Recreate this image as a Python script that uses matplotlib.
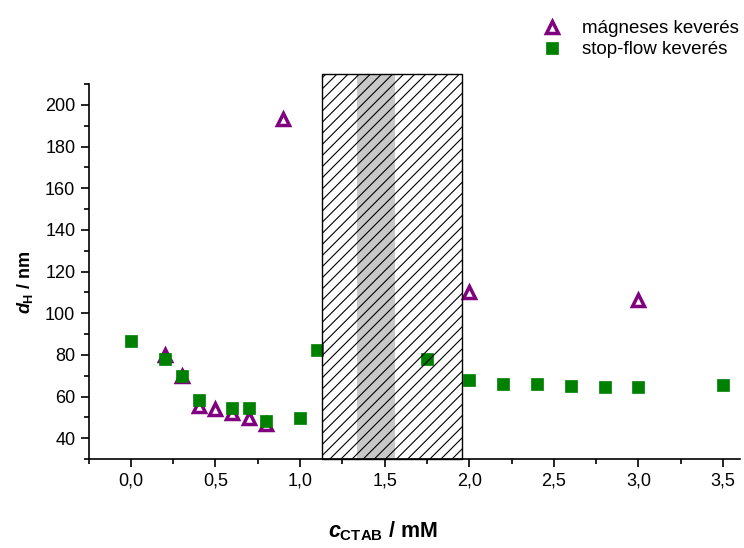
import numpy as np
import matplotlib
matplotlib.use("Agg")
import matplotlib.pyplot as plt
from matplotlib.patches import Rectangle
from matplotlib.ticker import MultipleLocator, FuncFormatter

# stop-flow keverés
sf_x = [0.0, 0.2, 0.3, 0.4, 0.6, 0.7, 0.8, 1.0, 1.1, 1.75, 2.0, 2.2, 2.4, 2.6, 2.8, 3.0, 3.5]
sf_y = [86.6, 78, 70, 58.5, 54.7, 54.7, 48.3, 49.5, 82.2, 77.8, 67.8, 66, 66, 65, 64.7, 64.7, 65.4]

# mágneses keverés
mg_x = [0.2, 0.3, 0.4, 0.5, 0.6, 0.7, 0.8, 0.9, 2.0, 3.0]
mg_y = [80, 70, 55.5, 54, 52, 49.5, 47, 193, 110.2, 106.2]

# shaded concentration ranges
hatch_range = (1.13, 1.955)
gray_range = (1.335, 1.56)

plt.rcParams['font.family'] = ['Liberation Sans', 'DejaVu Sans']
plt.rcParams['mathtext.fontset'] = 'custom'
plt.rcParams['mathtext.rm'] = 'Liberation Sans:bold'
plt.rcParams['mathtext.it'] = 'Liberation Sans:bold:italic'
plt.rcParams['mathtext.bf'] = 'Liberation Sans:bold'
plt.rcParams['hatch.linewidth'] = 0.8

fig = plt.figure(figsize=(7.44, 5.48), dpi=100)
ax = fig.add_axes([0.119, 0.1624, 0.8755, 0.6843])

ax.set_xlim(-0.25, 3.6)
ax.set_ylim(30, 210)

ax.axvspan(gray_range[0], gray_range[1], ymin=0, ymax=(215 - 30) / 180,
           color='#c8c8c8', lw=0, zorder=1, clip_on=False)

ax.plot(mg_x, mg_y, ls='none', marker='^', ms=9, mfc='white', mec='#800080',
        mew=2.5, zorder=3, label='mágneses keverés')
ax.plot(sf_x, sf_y, ls='none', marker='s', ms=8, mfc='#008000', mec='#008000',
        mew=0.5, zorder=4, label='stop-flow keverés')

rect = Rectangle((hatch_range[0], 30), hatch_range[1] - hatch_range[0], 215 - 30,
                 fill=False, hatch='///', edgecolor='black', lw=1.0,
                 zorder=5, clip_on=False)
ax.add_patch(rect)

for s in ['top', 'right']:
    ax.spines[s].set_visible(False)
for s in ['left', 'bottom']:
    ax.spines[s].set_linewidth(1.2)

ax.xaxis.set_major_locator(MultipleLocator(0.5))
ax.xaxis.set_minor_locator(MultipleLocator(0.25))
ax.yaxis.set_minor_locator(MultipleLocator(10))
ax.set_yticks(np.arange(40, 201, 20))
ax.xaxis.set_major_formatter(FuncFormatter(lambda v, p: f"{v:.1f}".replace('.', ',')))
ax.tick_params(which='major', direction='out', length=6, width=1.2, labelsize=13)
ax.tick_params(which='minor', direction='out', length=3.5, width=1.2)

ax.set_xlabel(r'$c_{\mathrm{CTAB}}$ / mM', fontsize=15.5, fontweight='bold')
ax.xaxis.set_label_coords(0.452, -0.16)
ax.set_ylabel(r'$d_{\mathrm{H}}$ / nm', fontsize=13, fontweight='bold')
ax.yaxis.set_label_coords(-0.082, 0.472)

ax.legend(loc='upper left', bbox_to_anchor=(0.7167, 0.977), bbox_transform=fig.transFigure,
          frameon=False, fontsize=13.5, handlelength=1.2, handletextpad=1.0,
          borderaxespad=0, labelspacing=0.2)

fig.savefig('out.png', dpi=100)
